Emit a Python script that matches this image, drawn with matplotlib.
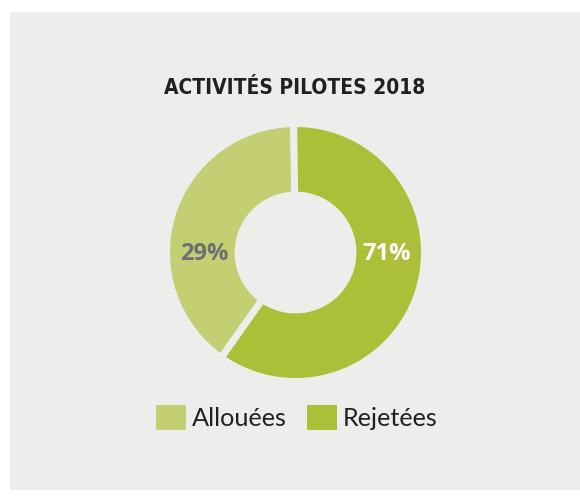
import matplotlib.pyplot as plt
from matplotlib.patches import Rectangle, Patch

# data
categories = ['Allouées', 'Rejetées']
shares = [40, 60]          # slice sizes as drawn in the picture
labels = ['29%', '71%']    # printed labels
colors = ['#c3cf72', '#acbf39']
bg = '#eceeeb'

W, H = 580, 496
fig = plt.figure(figsize=(W / 100, H / 100), dpi=100, facecolor='white')

# grey panel
fig.patches.append(Rectangle((10 / W, 1 - 490 / H), 570 / W, 478 / H,
                             transform=fig.transFigure, facecolor=bg,
                             edgecolor='none', zorder=-5))

# title
fig.text(295 / W, 1 - 93.5 / H, 'ACTIVITÉS PILOTES 2018', ha='center',
         va='baseline', fontsize=15, fontweight='bold', fontstretch='condensed',
         family='DejaVu Sans', color='#231f20')

# donut axes: centre (295.5, 252.5), outer radius 125.5 px
cx, cy, r = 295.5, 252.5, 125.5
ax = fig.add_axes([(cx - r) / W, (H - cy - r) / H, 2 * r / W, 2 * r / H])
ax.set_facecolor('none')
ax.axis('off')
gap = 5  # points
pad = gap * 100 / 72 / 2 / r
ax.pie(shares, colors=colors, startangle=90.8, counterclock=True,
       radius=1 + pad, wedgeprops=dict(width=0.57, edgecolor=bg,
                                       linewidth=gap))
ax.set_xlim(-1, 1)
ax.set_ylim(-1, 1)

ax.text(-0.729, -0.012, labels[0], ha='center', va='center', fontsize=17,
        fontweight='bold', family='Open Sans', color='#6d6e71')
ax.text(0.729, -0.012, labels[1], ha='center', va='center', fontsize=17,
        fontweight='bold', family='Open Sans', color='white')

# legend
handles = [Patch(facecolor=c, edgecolor='none') for c in colors]
fig.legend(handles, categories, loc='center',
           bbox_to_anchor=(297 / W, 1 - 417.5 / H), ncol=2, frameon=False,
           prop=dict(family='Lato', size=18.2), handlelength=1.17,
           handleheight=1.17, handletextpad=0.25, columnspacing=0.8,
           borderpad=0, labelcolor='#231f20')

fig.savefig('out.png', dpi=100, facecolor='white')
